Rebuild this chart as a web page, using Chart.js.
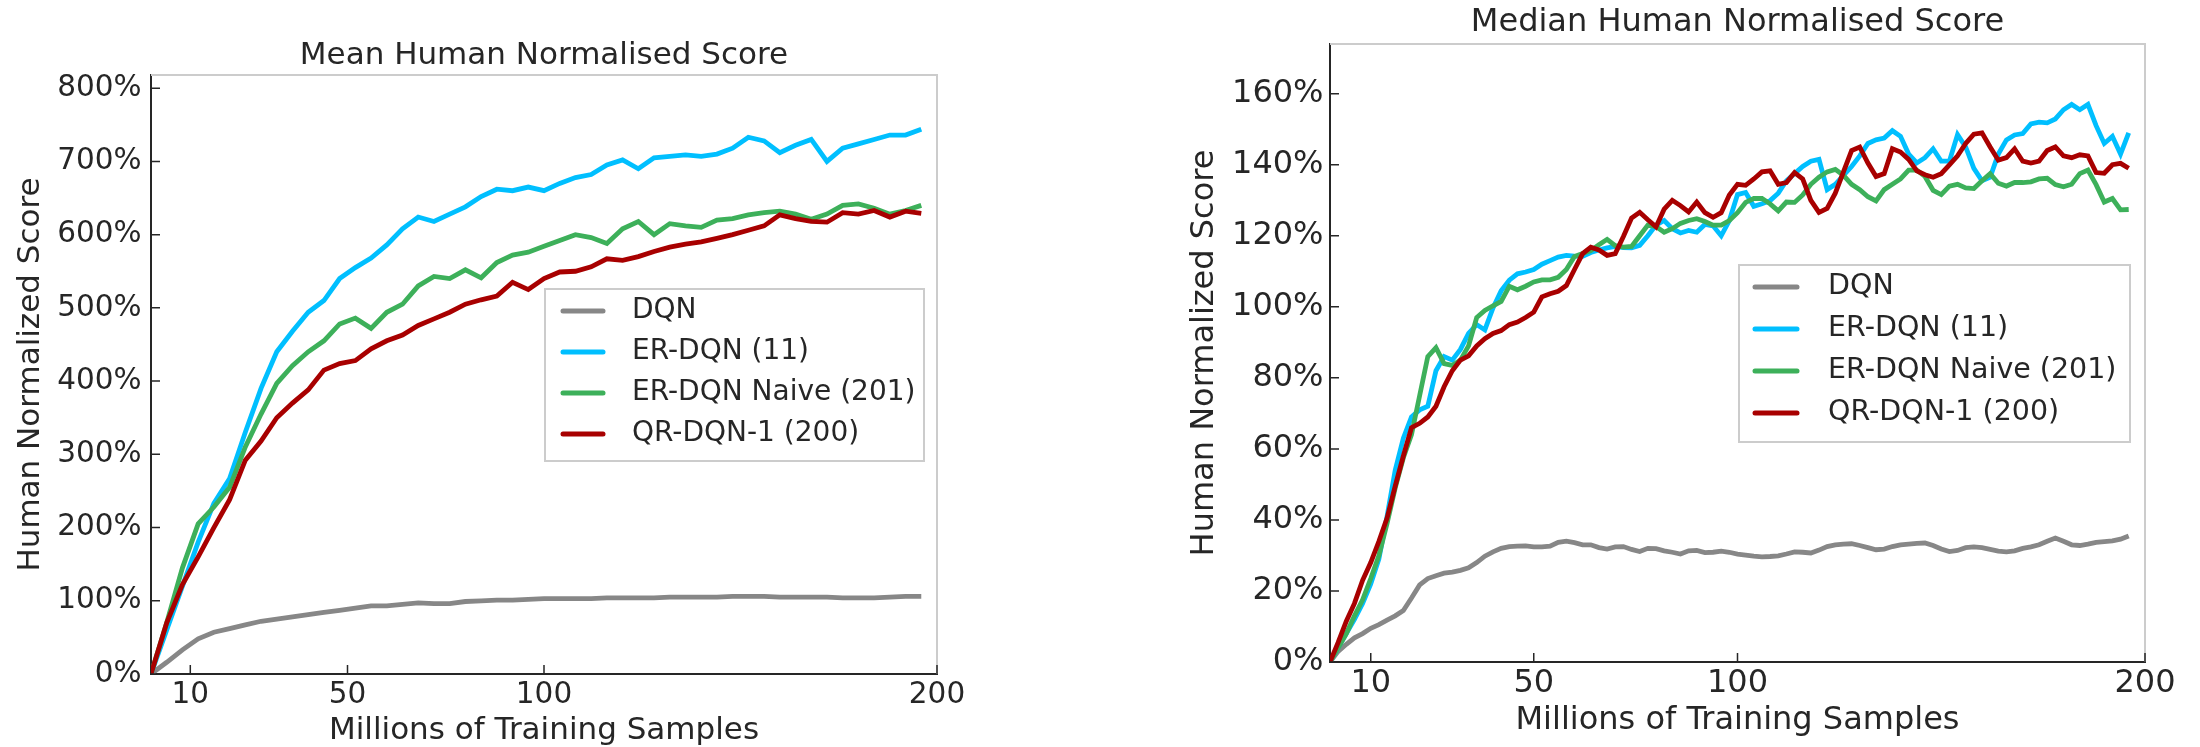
<!DOCTYPE html>
<html>
<head>
<meta charset="utf-8">
<script src="https://cdn.jsdelivr.net/npm/chart.js@4.4.1/dist/chart.umd.min.js"></script>
<style>
  body { margin: 0; background: #fff; }
  #wrap { display: flex; width: 2200px; height: 747px; }
  canvas { display: block; }
</style>
</head>
<body>
<div id="wrap">
  <canvas id="meanChart" width="1100" height="747"></canvas>
  <canvas id="medianChart" width="1100" height="747"></canvas>
</div>
<script>
// Series names and colours (same for both panels)
const seriesNames = ['DQN', 'ER-DQN (11)', 'ER-DQN Naive (201)', 'QR-DQN-1 (200)'];
const seriesColors = ['#878787', '#00bfff', '#3db05a', '#a80000'];

// x axis ticks (millions of training samples)
const xTicks = [10, 50, 100, 200];

// Mean panel: samples every 4M
const meanSteps = [0, 4, 8, 12, 16, 20, 24, 28, 32, 36, 40, 44, 48, 52, 56, 60, 64, 68, 72, 76,
  80, 84, 88, 92, 96, 100, 104, 108, 112, 116, 120, 124, 128, 132, 136, 140, 144, 148, 152, 156,
  160, 164, 168, 172, 176, 180, 184, 188, 192, 196];
const meanDqn = [0, 16, 33, 48, 57, 62, 67, 72, 75, 78, 81, 84, 87, 90, 93, 93, 95, 97, 96, 96,
  99, 100, 101, 101, 102, 103, 103, 103, 103, 104, 104, 104, 104, 105, 105, 105, 105, 106, 106, 106,
  105, 105, 105, 105, 104, 104, 104, 105, 106, 106];
const meanErDqn = [0, 60, 120, 180, 233, 267, 330, 390, 440, 468, 494, 510, 540, 555, 568, 586, 608, 624, 618, 628,
  638, 652, 662, 660, 665, 660, 670, 678, 682, 695, 702, 690, 705, 707, 709, 707, 710, 718, 733, 728,
  712, 722, 730, 700, 718, 724, 730, 736, 736, 744];
const meanNaive = [0, 70, 145, 205, 228, 255, 310, 355, 397, 421, 440, 455, 478, 486, 472, 494, 505, 530, 543, 540,
  552, 541, 562, 572, 576, 584, 592, 600, 596, 588, 608, 618, 600, 615, 612, 610, 620, 622, 627, 630,
  632, 628, 621, 628, 640, 642, 636, 628, 633, 640];
const meanQr = [0, 70, 122, 160, 200, 238, 292, 318, 350, 370, 388, 415, 424, 428, 444, 455, 463, 476, 485, 494,
  505, 511, 516, 535, 525, 540, 549, 550, 556, 567, 565, 570, 577, 583, 587, 590, 595, 600, 606, 612,
  627, 622, 618, 617, 630, 628, 633, 624, 632, 629];
const meanYTicks = [0, 100, 200, 300, 400, 500, 600, 700, 800];

// Median panel: samples every 2M
const medianSteps = [0, 2, 4, 6, 8, 10, 12, 14, 16, 18, 20, 22, 24, 26, 28, 30, 32, 34, 36, 38,
  40, 42, 44, 46, 48, 50, 52, 54, 56, 58, 60, 62, 64, 66, 68, 70, 72, 74, 76, 78,
  80, 82, 84, 86, 88, 90, 92, 94, 96, 98, 100, 102, 104, 106, 108, 110, 112, 114, 116, 118,
  120, 122, 124, 126, 128, 130, 132, 134, 136, 138, 140, 142, 144, 146, 148, 150, 152, 154, 156, 158,
  160, 162, 164, 166, 168, 170, 172, 174, 176, 178, 180, 182, 184, 186, 188, 190, 192, 194, 196];
const medDqn = [0, 3, 5, 6.8, 8, 9.5, 10.5, 11.8, 13, 14.5,
  18, 21.7, 23.5, 24.3, 25, 25.3, 25.8, 26.5, 28, 29.8,
  31, 32, 32.5, 32.6, 32.7, 32.4, 32.4, 32.6, 33.7, 34,
  33.6, 33, 33, 32.2, 31.8, 32.4, 32.5, 31.7, 31.1, 32,
  31.9, 31.3, 30.9, 30.4, 31.3, 31.4, 30.8, 30.9, 31.2, 30.9,
  30.4, 30.1, 29.8, 29.6, 29.7, 29.9, 30.4, 31, 30.9, 30.7,
  31.5, 32.5, 33, 33.2, 33.3, 32.8, 32.2, 31.6, 31.8, 32.5,
  33, 33.2, 33.4, 33.5, 32.8, 31.8, 31.1, 31.4, 32.2, 32.4,
  32.2, 31.7, 31.2, 31, 31.3, 32, 32.4, 33, 34, 34.9,
  34, 33, 32.8, 33.2, 33.7, 33.9, 34.1, 34.6, 35.5];
const medErDqn = [0, 4, 8, 12, 16.5, 22, 29, 41, 54, 63,
  69, 71, 72, 82, 86, 85, 88, 92.5, 95, 93.5,
  99.7, 104.5, 107.5, 109.3, 109.8, 110.5, 112, 113, 114, 114.5,
  114.3, 114.2, 115.3, 116, 116.6, 117, 116.7, 116.6, 117.3, 120,
  123, 124.3, 122, 120.8, 121.5, 121, 123.2, 122.8, 120, 124.3,
  131.6, 132.2, 128.3, 129, 129.9, 132, 135.5, 137.5, 139.5, 141,
  141.5, 133, 134.5, 137, 139.5, 142.5, 146, 147, 147.5, 149.6,
  148, 143, 140.5, 142, 144.5, 141, 141, 148.5, 145, 139,
  135.5, 136.5, 143, 147, 148.4, 148.8, 151.5, 152, 151.8, 152.9,
  155.5, 157, 155.5, 157, 151, 146, 148, 143, 149];
const medNaive = [0, 4, 8, 13, 17.5, 23.5, 30, 39, 49, 57.5,
  64, 75, 86, 88.5, 84, 83.5, 85, 89, 97, 99,
  100.3, 101.5, 105.8, 104.8, 105.8, 107, 107.6, 107.6, 108.3, 110.5,
  114.2, 115, 115.8, 117.5, 119, 117.2, 116.8, 117, 120, 123,
  122.6, 121, 122, 123.5, 124.3, 124.8, 124, 123, 123, 124.3,
  126.5, 129.4, 130.5, 130.5, 129, 127, 129.5, 129.4, 131.5, 134.5,
  136.5, 138, 138.7, 137, 134.5, 133, 131, 129.8, 133, 134.5,
  136, 138.5, 138.5, 136.7, 132.8, 131.6, 134, 134.5, 133.5, 133.3,
  135.5, 137.5, 134.8, 134, 135, 135, 135.2, 136, 136.2, 134.4,
  133.8, 134.5, 137.5, 138.5, 134.4, 129.5, 130.5, 127.3, 127.4];
const medQr = [0, 5.5, 11.5, 16.5, 23, 28, 34, 40.5, 49.5, 58,
  66, 67.2, 69, 72, 77.5, 82, 85, 86.2, 89, 91,
  92.5, 93.3, 95, 95.7, 97, 98.5, 102.8, 103.7, 104.4, 106,
  110.5, 115, 116.8, 116, 114.5, 115, 119.8, 125, 126.6, 124.5,
  122.5, 127.5, 130, 128.5, 126.7, 129.5, 126.5, 125.2, 126.5, 131.5,
  134.5, 134.2, 136, 138, 138.3, 134.5, 135, 137.8, 136, 130,
  126.6, 127.7, 132, 138, 144, 145, 140.5, 136.7, 137.5, 144.5,
  143.6, 141.5, 138.3, 137.2, 136.5, 137.5, 140, 142.5, 146, 148.6,
  149, 145, 141.3, 142, 144.5, 141, 140.5, 141, 144, 145,
  142.5, 142, 142.8, 142.5, 137.8, 137.6, 140, 140.4, 139];
const medianYTicks = [0, 20, 40, 60, 80, 100, 120, 140, 160];

Chart.defaults.font.family = "'DejaVu Sans', sans-serif";
Chart.defaults.color = '#262626';

const H = 747;

// inward tick marks + light top/right frame
const frameTicks = {
  id: 'frameTicks',
  afterDraw(chart) {
    const { ctx, chartArea: a, scales: { x, y } } = chart;
    ctx.save();
    ctx.strokeStyle = '#cccccc';
    ctx.lineWidth = 2;
    ctx.beginPath();
    ctx.moveTo(a.left, a.top);
    ctx.lineTo(a.right, a.top);
    ctx.lineTo(a.right, a.bottom);
    ctx.stroke();

    ctx.strokeStyle = '#262626';
    ctx.lineWidth = 1.5;
    ctx.beginPath();
    x.ticks.forEach(t => {
      const px = x.getPixelForValue(t.value);
      ctx.moveTo(px, a.bottom);
      ctx.lineTo(px, a.bottom - 9);
    });
    y.ticks.forEach(t => {
      const py = y.getPixelForValue(t.value);
      ctx.moveTo(a.left, py);
      ctx.lineTo(a.left + 9, py);
    });
    ctx.stroke();
    ctx.restore();
  }
};

// matplotlib-like legend box
const boxLegend = {
  id: 'boxLegend',
  afterDatasetsDraw(chart, args, opts) {
    const ctx = chart.ctx;
    const b = opts.box;
    ctx.save();
    ctx.fillStyle = '#ffffff';
    ctx.strokeStyle = '#cccccc';
    ctx.lineWidth = 2;
    ctx.fillRect(b.left, b.top, b.right - b.left, b.bottom - b.top);
    ctx.strokeRect(b.left, b.top, b.right - b.left, b.bottom - b.top);
    ctx.font = opts.fontSize + "px 'DejaVu Sans'";
    ctx.textBaseline = 'middle';
    ctx.textAlign = 'left';
    chart.data.datasets.forEach((ds, i) => {
      const yy = opts.firstRow + i * opts.rowGap;
      ctx.strokeStyle = ds.borderColor;
      ctx.lineWidth = 5;
      ctx.lineCap = 'round';
      ctx.beginPath();
      ctx.moveTo(opts.lineFrom, yy);
      ctx.lineTo(opts.lineTo, yy);
      ctx.stroke();
      ctx.fillStyle = '#262626';
      ctx.fillText(ds.label, opts.textX, yy);
    });
    ctx.restore();
  }
};

function makeChart(id, xs, series, s) {
  const datasets = series.map((vals, i) => ({
    label: seriesNames[i],
    data: xs.map((x, j) => ({ x: x, y: vals[j] })),
    borderColor: seriesColors[i],
    backgroundColor: seriesColors[i],
    borderWidth: 4.8,
    pointRadius: 0,
    tension: 0,
    order: series.length - 1 - i
  }));

  return new Chart(document.getElementById(id), {
    type: 'line',
    data: { datasets: datasets },
    plugins: [frameTicks, boxLegend],
    options: {
      responsive: false,
      devicePixelRatio: 1,
      animation: false,
      layout: { padding: { left: 0, right: 1100 - s.area.right, top: 0, bottom: 0 } },
      plugins: {
        legend: { display: false },
        tooltip: { enabled: false },
        title: {
          display: true,
          fullSize: false,   // centre over the plot area, like matplotlib
          text: s.title,
          color: '#262626',
          font: { size: s.titleSize, weight: 'normal', lineHeight: 1.2 },
          padding: {
            top: s.titleY - s.titleSize * 0.6,
            bottom: s.area.top - s.titleY - s.titleSize * 0.6
          }
        },
        boxLegend: s.legend
      },
      scales: {
        x: {
          type: 'linear',
          min: 0,
          max: 200,
          grid: { display: false, drawTicks: false },
          border: { color: '#262626', width: 2 },
          afterBuildTicks: sc => { sc.ticks = xTicks.map(v => ({ value: v })); },
          afterFit: sc => { sc.height = H - s.area.bottom; },
          ticks: {
            font: { size: s.tickSize, lineHeight: 1.2 },
            maxRotation: 0,
            autoSkip: false,
            padding: s.xLabelY - s.area.bottom - s.tickSize * 0.6
          },
          title: {
            display: true,
            text: 'Millions of Training Samples',
            font: { size: s.axisSize, lineHeight: 1 },
            padding: { top: 0, bottom: H - s.xTitleY - s.axisSize / 2 }
          }
        },
        y: {
          type: 'linear',
          min: 0,
          max: s.yMax,
          grid: { display: false, drawTicks: false },
          border: { color: '#262626', width: 2 },
          afterBuildTicks: sc => { sc.ticks = s.yTicks.map(v => ({ value: v })); },
          afterFit: sc => { sc.width = s.area.left; },
          ticks: {
            font: { size: s.tickSize },
            padding: s.yLabelPad,
            callback: v => v + '%'
          },
          title: {
            display: true,
            text: 'Human Normalized Score',
            font: { size: s.axisSize, lineHeight: 1 },
            padding: { top: s.yTitleX - s.axisSize / 2, bottom: 0 }
          }
        }
      }
    }
  });
}

makeChart('meanChart', meanSteps, [meanDqn, meanErDqn, meanNaive, meanQr], {
  title: 'Mean Human Normalised Score',
  titleSize: 31,
  tickSize: 29.5,
  axisSize: 31,
  area: { left: 151, right: 937, top: 75, bottom: 674 },
  titleY: 56,
  xLabelY: 695,
  xTitleY: 731,
  yTitleX: 31,
  yLabelPad: 9.5,
  yMax: 818,
  yTicks: meanYTicks,
  legend: {
    box: { left: 545, right: 924, top: 289, bottom: 461 },
    fontSize: 28,
    firstRow: 311, rowGap: 41, lineFrom: 563, lineTo: 603, textX: 632
  }
});

makeChart('medianChart', medianSteps, [medDqn, medErDqn, medNaive, medQr], {
  title: 'Median Human Normalised Score',
  titleSize: 32,
  tickSize: 32,
  axisSize: 32,
  area: { left: 230, right: 1045, top: 44, bottom: 662 },
  titleY: 23,
  xLabelY: 684,
  xTitleY: 721,
  yTitleX: 105,
  yLabelPad: 6.5,
  yMax: 174,
  yTicks: medianYTicks,
  legend: {
    box: { left: 639, right: 1030, top: 265, bottom: 442 },
    fontSize: 28.5,
    firstRow: 287, rowGap: 42, lineFrom: 655, lineTo: 697, textX: 728
  }
});
</script>
</body>
</html>
